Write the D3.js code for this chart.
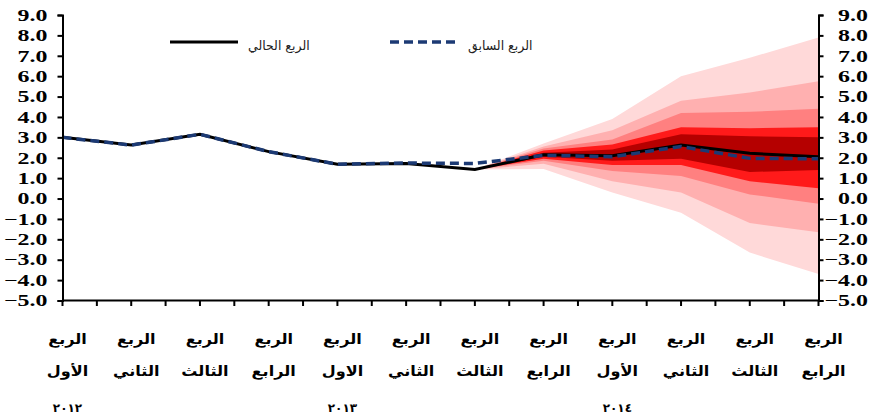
<!DOCTYPE html>
<html>
<head>
<meta charset="utf-8">
<script src="https://cdn.jsdelivr.net/npm/d3@7"></script>
<style>
  body { margin: 0; background: #fff; }
  svg { display: block; }
</style>
</head>
<body>
<script>
// quarters, left to right
var quarters = ["q1", "q2", "q3", "q4", "q5", "q6", "q7", "q8", "q9", "q10", "q11", "q12"];
var line1 = ["الربع", "الربع", "الربع", "الربع", "الربع", "الربع", "الربع", "الربع", "الربع", "الربع", "الربع", "الربع"];
var line2 = ["الأول", "الثاني", "الثالث", "الرابع", "الاول", "الثاني", "الثالث", "الرابع", "الأول", "الثاني", "الثالث", "الرابع"];
var years = [[0, "٢٠١٢"], [4, "٢٠١٣"], [8, "٢٠١٤"]];

var current  = [3.0, 2.62, 3.15, 2.3, 1.68, 1.72, 1.42, 2.15, 2.1, 2.62, 2.22, 2.05];
var previous = [3.0, 2.62, 3.15, 2.3, 1.68, 1.74, 1.72, 2.12, 2.05, 2.55, 1.97, 1.95];

// fan: forecast points (index 6 .. 11), bands from outer to inner
var fanIdx = [6, 7, 8, 9, 10, 11];
var fanUpper = [
  [1.42, 2.7, 3.9, 6.0, 6.9, 7.9],
  [1.42, 2.55, 3.35, 4.8, 5.2, 5.75],
  [1.42, 2.45, 2.9, 4.2, 4.25, 4.4],
  [1.42, 2.35, 2.65, 3.5, 3.45, 3.5],
  [1.42, 2.25, 2.4, 3.15, 3.05, 3.0]
];
var fanLower = [
  [1.42, 1.45, 0.3, -0.7, -2.65, -3.7],
  [1.42, 1.7, 0.85, 0.3, -1.2, -1.65],
  [1.42, 1.85, 1.35, 1.1, 0.2, -0.25],
  [1.42, 1.95, 1.65, 1.65, 0.85, 0.5],
  [1.42, 2.05, 1.85, 1.95, 1.3, 1.4]
];
var fanColors = ["#ffd9d9", "#ffb0b0", "#ff8080", "#ff1a1a", "#b50000"];

var yTicks = d3.range(-5, 9.01, 1);

var width = 871, height = 419;
var svg = d3.select("body").append("svg")
  .attr("width", width)
  .attr("height", height);

var x = d3.scalePoint().domain(quarters).range([62.5, 818.5]);
var y = d3.scaleLinear().domain([-5, 9]).range([300.5, 15]);

// fan bands
fanUpper.forEach(function(up, b) {
  var pts = fanIdx.map(function(i, k) { return { i: i, lo: fanLower[b][k], hi: up[k] }; });
  var area = d3.area()
    .x(function(d) { return x(quarters[d.i]); })
    .y0(function(d) { return y(d.lo); })
    .y1(function(d) { return y(d.hi); });
  svg.append("path")
    .attr("d", area(pts))
    .attr("fill", fanColors[b]);
});

// lines
var line = d3.line()
  .x(function(d, i) { return x(quarters[i]); })
  .y(function(d) { return y(d); });

svg.append("path")
  .attr("d", line(current))
  .attr("fill", "none")
  .attr("stroke", "#000")
  .attr("stroke-width", 3);

svg.append("path")
  .attr("d", line(previous))
  .attr("fill", "none")
  .attr("stroke", "#1c3a74")
  .attr("stroke-width", 3.5)
  .attr("stroke-dasharray", "9,5");

// axes (labels are stretched wide like in the original)
var sx = 1.45;
var fmt = d3.format(".1f");
var left = svg.append("g")
  .attr("transform", "translate(62.5,0)")
  .call(d3.axisLeft(y).tickValues(yTicks).tickFormat(fmt).tickSize(5).tickPadding(10));
var right = svg.append("g")
  .attr("transform", "translate(818.5,0)")
  .call(d3.axisRight(y).tickValues(yTicks).tickFormat(fmt).tickSize(5).tickPadding(7));

[left, right].forEach(function(g, k) {
  g.select(".domain").attr("stroke", "#000").attr("stroke-width", 2);
  g.selectAll(".tick line").attr("stroke", "#000").attr("stroke-width", 2);
  g.selectAll(".tick text")
    .attr("fill", "#000")
    .attr("text-anchor", "end")
    .attr("x", k == 0 ? -15 / sx : 49.5 / sx)
    .attr("transform", "scale(" + sx + ",1)")
    .style("font-family", "'Liberation Serif', 'Times New Roman', serif")
    .style("font-weight", "bold")
    .style("font-size", "16.5px");
});

// bottom axis with half-step ticks
var step = x.step();
var halfTicks = d3.range(0, 23).map(function(k) { return 62.5 + k * step / 2; });
svg.append("line")
  .attr("x1", 62.5).attr("x2", 818.5)
  .attr("y1", 300.5).attr("y2", 300.5)
  .attr("stroke", "#000").attr("stroke-width", 2);
svg.selectAll(".xt").data(halfTicks).enter().append("line")
  .attr("x1", function(d) { return d; }).attr("x2", function(d) { return d; })
  .attr("y1", 300.5).attr("y2", 306)
  .attr("stroke", "#000").attr("stroke-width", 2);

// category labels
var arFont = "'DejaVu Sans', 'Noto Sans', Arial, sans-serif";
var cat = svg.selectAll(".cat").data(quarters).enter().append("g")
  .attr("transform", function(d) { return "translate(" + (x(d) + 5) + ",0) scale(1.15,1)"; });
cat.append("text")
  .attr("y", 344)
  .attr("text-anchor", "middle")
  .style("font-family", arFont)
  .style("font-size", "14px")
  .style("font-weight", "bold")
  .text(function(d, i) { return line1[i]; });
cat.append("text")
  .attr("y", 376)
  .attr("text-anchor", "middle")
  .style("font-family", arFont)
  .style("font-size", "14px")
  .style("font-weight", "bold")
  .text(function(d, i) { return line2[i]; });

svg.selectAll(".yr").data(years).enter().append("text")
  .attr("x", function(d) { return x(quarters[d[0]]) + 5; })
  .attr("y", 412)
  .attr("text-anchor", "middle")
  .style("font-family", arFont)
  .style("font-size", "12px")
  .style("font-weight", "bold")
  .style("letter-spacing", "7px")
  .text(function(d) { return d[1]; });

// legend
var leg = svg.append("g");
leg.append("line")
  .attr("x1", 170).attr("x2", 238).attr("y1", 42).attr("y2", 42)
  .attr("stroke", "#000").attr("stroke-width", 3);
leg.append("text")
  .attr("x", 248).attr("y", 50)
  .style("font-family", arFont)
  .style("font-size", "12.5px")
  .attr("fill", "#222")
  .text("الربع الحالي");
leg.append("line")
  .attr("x1", 390).attr("x2", 460).attr("y1", 42).attr("y2", 42)
  .attr("stroke", "#1c3a74").attr("stroke-width", 3.5)
  .attr("stroke-dasharray", "9,5");
leg.append("text")
  .attr("x", 468).attr("y", 50)
  .style("font-family", arFont)
  .style("font-size", "12.5px")
  .attr("fill", "#222")
  .text("الربع السابق");
</script>
</body>
</html>
